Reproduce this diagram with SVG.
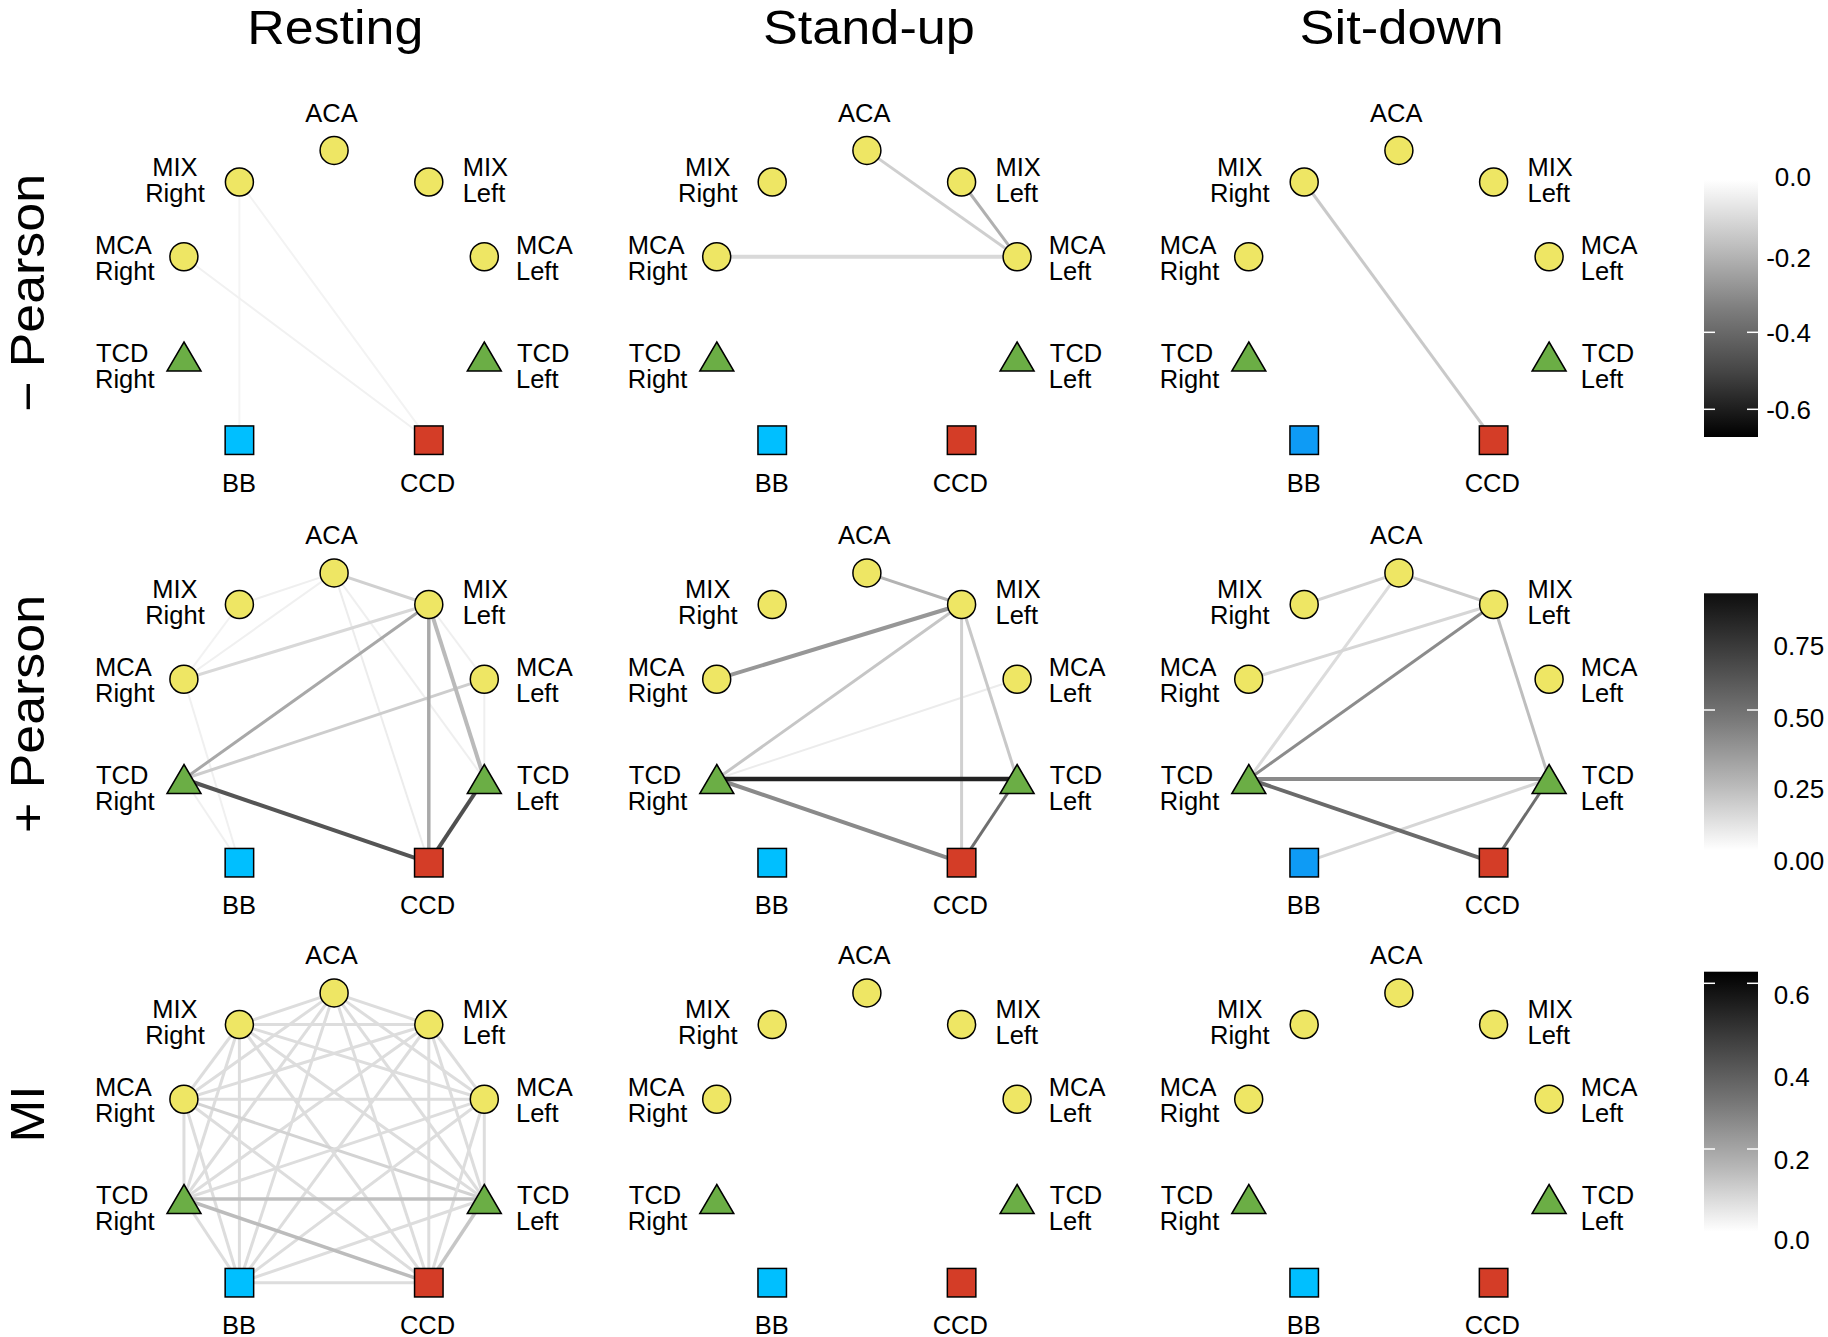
<svg xmlns="http://www.w3.org/2000/svg" xmlns:xlink="http://www.w3.org/1999/xlink" width="1828" height="1337" viewBox="0 0 1828 1337">
<style>
text{font-family:"Liberation Sans",Arial,Helvetica,sans-serif;fill:#000}
.lab{font-size:25.5px}
.mid{text-anchor:middle}
.title{font-size:48px;text-anchor:middle}
.row{font-size:48px;text-anchor:middle}
.cb{font-size:26px}
.end{text-anchor:end}
line{stroke-linecap:butt;fill:none}
.tick{stroke:#fff;stroke-width:1.5}
</style>
<defs>
<circle id="nc" cx="0" cy="0" r="14" fill="#EEE664" stroke="#000" stroke-width="1.5"/>
<path id="nt" d="M0,-14.5 L17,14.5 L-17,14.5 Z" fill="#6BAE45" stroke="#000" stroke-width="1.5"/>
<rect id="nsb" x="-14.25" y="-14.25" width="28.5" height="28.5" fill="#00BFFF" stroke="#000" stroke-width="1.5"/>
<rect id="nsb2" x="-14.25" y="-14.25" width="28.5" height="28.5" fill="#0E9BF5" stroke="#000" stroke-width="1.5"/>
<rect id="nsr" x="-14.25" y="-14.25" width="28.5" height="28.5" fill="#D43D27" stroke="#000" stroke-width="1.5"/>
<linearGradient id="g1" x1="0" y1="0" x2="0" y2="1">
<stop offset="0" stop-color="#ffffff"/><stop offset="0.25" stop-color="#c0c0c0"/><stop offset="0.5" stop-color="#7e7e7e"/><stop offset="0.75" stop-color="#444444"/><stop offset="1" stop-color="#000000"/>
</linearGradient>
<linearGradient id="g2" x1="0" y1="0" x2="0" y2="1">
<stop offset="0" stop-color="#0e0e0e"/><stop offset="0.25" stop-color="#444444"/><stop offset="0.5" stop-color="#7b7b7b"/><stop offset="0.75" stop-color="#bababa"/><stop offset="1" stop-color="#ffffff"/>
</linearGradient>
<linearGradient id="g3" x1="0" y1="0" x2="0" y2="1">
<stop offset="0" stop-color="#000000"/><stop offset="0.25" stop-color="#3c3c3c"/><stop offset="0.5" stop-color="#767676"/><stop offset="0.75" stop-color="#b6b6b6"/><stop offset="1" stop-color="#ffffff"/>
</linearGradient>
</defs>
<rect width="1828" height="1337" fill="#fff"/>

<g id="titles">
<text class="title" x="335.3" y="43.5" textLength="176" lengthAdjust="spacingAndGlyphs">Resting</text>
<text class="title" x="868.9" y="43.5" textLength="212" lengthAdjust="spacingAndGlyphs">Stand-up</text>
<text class="title" x="1401.6" y="43.5" textLength="204" lengthAdjust="spacingAndGlyphs">Sit-down</text>
<text class="row" transform="translate(43.5,293) rotate(-90)" textLength="238" lengthAdjust="spacingAndGlyphs">− Pearson</text>
<text class="row" transform="translate(43.5,714) rotate(-90)" textLength="238" lengthAdjust="spacingAndGlyphs">+ Pearson</text>
<text class="row" transform="translate(43.5,1114) rotate(-90)" textLength="57" lengthAdjust="spacingAndGlyphs">MI</text>
</g>

<g id="connectors">
<g id="edges-r1c1" transform="translate(0,0)">
<line x1="239.4" y1="182" x2="239.4" y2="440.2" stroke="#f4f4f4" stroke-width="2"/>
<line x1="239.4" y1="182" x2="428.8" y2="440.2" stroke="#f3f3f3" stroke-width="2"/>
<line x1="183.9" y1="256.7" x2="428.8" y2="440.2" stroke="#f1f1f1" stroke-width="2"/>
</g>
<g id="edges-r1c2" transform="translate(532.8,0)">
<line x1="183.9" y1="256.7" x2="484.3" y2="256.7" stroke="#d9d9d9" stroke-width="4"/>
<line x1="334.1" y1="150.4" x2="484.3" y2="256.7" stroke="#cfcfcf" stroke-width="3"/>
<line x1="428.8" y1="182" x2="484.3" y2="256.7" stroke="#b0b0b0" stroke-width="3"/>
</g>
<g id="edges-r1c3" transform="translate(1064.8,0)">
<line x1="239.4" y1="182" x2="428.8" y2="440.2" stroke="#c9c9c9" stroke-width="3"/>
</g>
<g id="edges-r2c1" transform="translate(0,422.5)">
<line x1="334.1" y1="150.4" x2="239.4" y2="182" stroke="#efefef" stroke-width="2"/>
<line x1="239.4" y1="182" x2="183.9" y2="256.7" stroke="#f2f2f2" stroke-width="2"/>
<line x1="334.1" y1="150.4" x2="183.9" y2="256.7" stroke="#f0f0f0" stroke-width="2"/>
<line x1="334.1" y1="150.4" x2="428.8" y2="440.2" stroke="#ececec" stroke-width="2"/>
<line x1="334.1" y1="150.4" x2="484.3" y2="356.5" stroke="#efefef" stroke-width="2"/>
<line x1="428.8" y1="182" x2="484.3" y2="256.7" stroke="#efefef" stroke-width="2"/>
<line x1="484.3" y1="256.7" x2="484.3" y2="356.5" stroke="#efefef" stroke-width="2"/>
<line x1="183.9" y1="256.7" x2="239.4" y2="440.2" stroke="#f0f0f0" stroke-width="2"/>
<line x1="184" y1="356.5" x2="239.4" y2="440.2" stroke="#f0f0f0" stroke-width="2"/>
<line x1="334.1" y1="150.4" x2="428.8" y2="182" stroke="#d0d0d0" stroke-width="3"/>
<line x1="183.9" y1="256.7" x2="428.8" y2="182" stroke="#d8d8d8" stroke-width="3"/>
<line x1="184" y1="356.5" x2="484.3" y2="256.7" stroke="#cdcdcd" stroke-width="3"/>
<line x1="184" y1="356.5" x2="428.8" y2="182" stroke="#a8a8a8" stroke-width="3"/>
<line x1="428.8" y1="182" x2="428.8" y2="440.2" stroke="#a9a9a9" stroke-width="3.5"/>
<line x1="428.8" y1="182" x2="484.3" y2="356.5" stroke="#bababa" stroke-width="4"/>
<line x1="184" y1="356.5" x2="428.8" y2="440.2" stroke="#555555" stroke-width="4"/>
<line x1="428.8" y1="440.2" x2="484.3" y2="356.5" stroke="#4f4f4f" stroke-width="4"/>
</g>
<g id="edges-r2c2" transform="translate(532.8,422.5)">
<line x1="184" y1="356.5" x2="484.3" y2="256.7" stroke="#ececec" stroke-width="2"/>
<line x1="334.1" y1="150.4" x2="428.8" y2="182" stroke="#b3b3b3" stroke-width="3"/>
<line x1="184" y1="356.5" x2="428.8" y2="182" stroke="#c6c6c6" stroke-width="3"/>
<line x1="428.8" y1="182" x2="428.8" y2="440.2" stroke="#d0d0d0" stroke-width="3"/>
<line x1="428.8" y1="182" x2="484.3" y2="356.5" stroke="#c8c8c8" stroke-width="3"/>
<line x1="183.9" y1="256.7" x2="428.8" y2="182" stroke="#979797" stroke-width="4"/>
<line x1="184" y1="356.5" x2="428.8" y2="440.2" stroke="#8a8a8a" stroke-width="4"/>
<line x1="428.8" y1="440.2" x2="484.3" y2="356.5" stroke="#6f6f6f" stroke-width="3"/>
<line x1="184" y1="356.5" x2="484.3" y2="356.5" stroke="#222222" stroke-width="4.5"/>
</g>
<g id="edges-r2c3" transform="translate(1064.8,422.5)">
<line x1="239.4" y1="182" x2="334.1" y2="150.4" stroke="#d4d4d4" stroke-width="3"/>
<line x1="334.1" y1="150.4" x2="428.8" y2="182" stroke="#cbcbcb" stroke-width="3"/>
<line x1="334.1" y1="150.4" x2="184" y2="356.5" stroke="#dcdcdc" stroke-width="3"/>
<line x1="183.9" y1="256.7" x2="428.8" y2="182" stroke="#d6d6d6" stroke-width="3"/>
<line x1="239.4" y1="440.2" x2="484.3" y2="356.5" stroke="#d6d6d6" stroke-width="3"/>
<line x1="428.8" y1="182" x2="484.3" y2="356.5" stroke="#bebebe" stroke-width="3"/>
<line x1="184" y1="356.5" x2="428.8" y2="182" stroke="#8c8c8c" stroke-width="3"/>
<line x1="184" y1="356.5" x2="484.3" y2="356.5" stroke="#8a8a8a" stroke-width="4"/>
<line x1="184" y1="356.5" x2="428.8" y2="440.2" stroke="#6a6a6a" stroke-width="4"/>
<line x1="428.8" y1="440.2" x2="484.3" y2="356.5" stroke="#6c6c6c" stroke-width="3"/>
</g>
<g id="edges-r3c1" transform="translate(0,842.5)" stroke="#dddddd" stroke-width="3">
<line x1="334.1" y1="150.4" x2="239.4" y2="182"/>
<line x1="334.1" y1="150.4" x2="428.8" y2="182"/>
<line x1="334.1" y1="150.4" x2="183.9" y2="256.7"/>
<line x1="334.1" y1="150.4" x2="484.3" y2="256.7"/>
<line x1="334.1" y1="150.4" x2="184" y2="356.5"/>
<line x1="334.1" y1="150.4" x2="484.3" y2="356.5"/>
<line x1="334.1" y1="150.4" x2="239.4" y2="440.2"/>
<line x1="334.1" y1="150.4" x2="428.8" y2="440.2"/>
<line x1="239.4" y1="182" x2="428.8" y2="182"/>
<line x1="239.4" y1="182" x2="183.9" y2="256.7"/>
<line x1="239.4" y1="182" x2="484.3" y2="256.7"/>
<line x1="239.4" y1="182" x2="184" y2="356.5"/>
<line x1="239.4" y1="182" x2="484.3" y2="356.5"/>
<line x1="239.4" y1="182" x2="239.4" y2="440.2"/>
<line x1="239.4" y1="182" x2="428.8" y2="440.2"/>
<line x1="428.8" y1="182" x2="183.9" y2="256.7"/>
<line x1="428.8" y1="182" x2="484.3" y2="256.7"/>
<line x1="428.8" y1="182" x2="184" y2="356.5"/>
<line x1="428.8" y1="182" x2="484.3" y2="356.5"/>
<line x1="428.8" y1="182" x2="239.4" y2="440.2"/>
<line x1="428.8" y1="182" x2="428.8" y2="440.2"/>
<line x1="183.9" y1="256.7" x2="484.3" y2="256.7"/>
<line x1="183.9" y1="256.7" x2="184" y2="356.5"/>
<line x1="183.9" y1="256.7" x2="484.3" y2="356.5" stroke="#d3d3d3"/>
<line x1="183.9" y1="256.7" x2="239.4" y2="440.2"/>
<line x1="183.9" y1="256.7" x2="428.8" y2="440.2"/>
<line x1="484.3" y1="256.7" x2="184" y2="356.5"/>
<line x1="484.3" y1="256.7" x2="484.3" y2="356.5"/>
<line x1="484.3" y1="256.7" x2="239.4" y2="440.2"/>
<line x1="484.3" y1="256.7" x2="428.8" y2="440.2"/>
<line x1="184" y1="356.5" x2="239.4" y2="440.2"/>
<line x1="484.3" y1="356.5" x2="239.4" y2="440.2"/>
<line x1="239.4" y1="440.2" x2="428.8" y2="440.2"/>
<line x1="184" y1="356.5" x2="484.3" y2="356.5" stroke="#c0c0c0" stroke-width="3.5"/>
<line x1="184" y1="356.5" x2="428.8" y2="440.2" stroke="#bcbcbc" stroke-width="3.5"/>
<line x1="484.3" y1="356.5" x2="428.8" y2="440.2" stroke="#c6c6c6" stroke-width="3.5"/>
</g>
</g>

<g id="nodes" class="lab">
<g id="panel-r1c1" transform="translate(0,0)">
<g id="r1c1-ACA"><use href="#nc" x="334.1" y="150.4"/><text class="lab mid" x="331.5" y="121.5">ACA</text></g>
<g id="r1c1-MIXR"><use href="#nc" x="239.4" y="182"/><text class="lab"><tspan x="152.3" y="175.5">MIX</tspan><tspan x="145.2" y="201.5">Right</tspan></text></g>
<g id="r1c1-MIXL"><use href="#nc" x="428.8" y="182"/><text class="lab"><tspan x="462.7" y="175.5">MIX</tspan><tspan x="462.7" y="201.5">Left</tspan></text></g>
<g id="r1c1-MCAR"><use href="#nc" x="183.9" y="256.7"/><text class="lab"><tspan x="95" y="253.5">MCA</tspan><tspan x="95" y="279.5">Right</tspan></text></g>
<g id="r1c1-MCAL"><use href="#nc" x="484.3" y="256.7"/><text class="lab"><tspan x="516" y="253.5">MCA</tspan><tspan x="516" y="279.5">Left</tspan></text></g>
<g id="r1c1-TCDR"><use href="#nt" x="184" y="356.5"/><text class="lab"><tspan x="96" y="361.5">TCD</tspan><tspan x="95" y="387.5">Right</tspan></text></g>
<g id="r1c1-TCDL"><use href="#nt" x="484.3" y="356.5"/><text class="lab"><tspan x="517" y="361.5">TCD</tspan><tspan x="516" y="387.5">Left</tspan></text></g>
<g id="r1c1-BB"><use href="#nsb" x="239.4" y="440.2"/><text class="lab mid" x="239" y="491.5">BB</text></g>
<g id="r1c1-CCD"><use href="#nsr" x="428.8" y="440.2"/><text class="lab mid" x="427.5" y="491.5">CCD</text></g>
</g>
<g id="panel-r1c2" transform="translate(532.8,0)">
<g id="r1c2-ACA"><use href="#nc" x="334.1" y="150.4"/><text class="lab mid" x="331.5" y="121.5">ACA</text></g>
<g id="r1c2-MIXR"><use href="#nc" x="239.4" y="182"/><text class="lab"><tspan x="152.3" y="175.5">MIX</tspan><tspan x="145.2" y="201.5">Right</tspan></text></g>
<g id="r1c2-MIXL"><use href="#nc" x="428.8" y="182"/><text class="lab"><tspan x="462.7" y="175.5">MIX</tspan><tspan x="462.7" y="201.5">Left</tspan></text></g>
<g id="r1c2-MCAR"><use href="#nc" x="183.9" y="256.7"/><text class="lab"><tspan x="95" y="253.5">MCA</tspan><tspan x="95" y="279.5">Right</tspan></text></g>
<g id="r1c2-MCAL"><use href="#nc" x="484.3" y="256.7"/><text class="lab"><tspan x="516" y="253.5">MCA</tspan><tspan x="516" y="279.5">Left</tspan></text></g>
<g id="r1c2-TCDR"><use href="#nt" x="184" y="356.5"/><text class="lab"><tspan x="96" y="361.5">TCD</tspan><tspan x="95" y="387.5">Right</tspan></text></g>
<g id="r1c2-TCDL"><use href="#nt" x="484.3" y="356.5"/><text class="lab"><tspan x="517" y="361.5">TCD</tspan><tspan x="516" y="387.5">Left</tspan></text></g>
<g id="r1c2-BB"><use href="#nsb" x="239.4" y="440.2"/><text class="lab mid" x="239" y="491.5">BB</text></g>
<g id="r1c2-CCD"><use href="#nsr" x="428.8" y="440.2"/><text class="lab mid" x="427.5" y="491.5">CCD</text></g>
</g>
<g id="panel-r1c3" transform="translate(1064.8,0)">
<g id="r1c3-ACA"><use href="#nc" x="334.1" y="150.4"/><text class="lab mid" x="331.5" y="121.5">ACA</text></g>
<g id="r1c3-MIXR"><use href="#nc" x="239.4" y="182"/><text class="lab"><tspan x="152.3" y="175.5">MIX</tspan><tspan x="145.2" y="201.5">Right</tspan></text></g>
<g id="r1c3-MIXL"><use href="#nc" x="428.8" y="182"/><text class="lab"><tspan x="462.7" y="175.5">MIX</tspan><tspan x="462.7" y="201.5">Left</tspan></text></g>
<g id="r1c3-MCAR"><use href="#nc" x="183.9" y="256.7"/><text class="lab"><tspan x="95" y="253.5">MCA</tspan><tspan x="95" y="279.5">Right</tspan></text></g>
<g id="r1c3-MCAL"><use href="#nc" x="484.3" y="256.7"/><text class="lab"><tspan x="516" y="253.5">MCA</tspan><tspan x="516" y="279.5">Left</tspan></text></g>
<g id="r1c3-TCDR"><use href="#nt" x="184" y="356.5"/><text class="lab"><tspan x="96" y="361.5">TCD</tspan><tspan x="95" y="387.5">Right</tspan></text></g>
<g id="r1c3-TCDL"><use href="#nt" x="484.3" y="356.5"/><text class="lab"><tspan x="517" y="361.5">TCD</tspan><tspan x="516" y="387.5">Left</tspan></text></g>
<g id="r1c3-BB"><use href="#nsb2" x="239.4" y="440.2"/><text class="lab mid" x="239" y="491.5">BB</text></g>
<g id="r1c3-CCD"><use href="#nsr" x="428.8" y="440.2"/><text class="lab mid" x="427.5" y="491.5">CCD</text></g>
</g>
<g id="panel-r2c1" transform="translate(0,422.5)">
<g id="r2c1-ACA"><use href="#nc" x="334.1" y="150.4"/><text class="lab mid" x="331.5" y="121.5">ACA</text></g>
<g id="r2c1-MIXR"><use href="#nc" x="239.4" y="182"/><text class="lab"><tspan x="152.3" y="175.5">MIX</tspan><tspan x="145.2" y="201.5">Right</tspan></text></g>
<g id="r2c1-MIXL"><use href="#nc" x="428.8" y="182"/><text class="lab"><tspan x="462.7" y="175.5">MIX</tspan><tspan x="462.7" y="201.5">Left</tspan></text></g>
<g id="r2c1-MCAR"><use href="#nc" x="183.9" y="256.7"/><text class="lab"><tspan x="95" y="253.5">MCA</tspan><tspan x="95" y="279.5">Right</tspan></text></g>
<g id="r2c1-MCAL"><use href="#nc" x="484.3" y="256.7"/><text class="lab"><tspan x="516" y="253.5">MCA</tspan><tspan x="516" y="279.5">Left</tspan></text></g>
<g id="r2c1-TCDR"><use href="#nt" x="184" y="356.5"/><text class="lab"><tspan x="96" y="361.5">TCD</tspan><tspan x="95" y="387.5">Right</tspan></text></g>
<g id="r2c1-TCDL"><use href="#nt" x="484.3" y="356.5"/><text class="lab"><tspan x="517" y="361.5">TCD</tspan><tspan x="516" y="387.5">Left</tspan></text></g>
<g id="r2c1-BB"><use href="#nsb" x="239.4" y="440.2"/><text class="lab mid" x="239" y="491.5">BB</text></g>
<g id="r2c1-CCD"><use href="#nsr" x="428.8" y="440.2"/><text class="lab mid" x="427.5" y="491.5">CCD</text></g>
</g>
<g id="panel-r2c2" transform="translate(532.8,422.5)">
<g id="r2c2-ACA"><use href="#nc" x="334.1" y="150.4"/><text class="lab mid" x="331.5" y="121.5">ACA</text></g>
<g id="r2c2-MIXR"><use href="#nc" x="239.4" y="182"/><text class="lab"><tspan x="152.3" y="175.5">MIX</tspan><tspan x="145.2" y="201.5">Right</tspan></text></g>
<g id="r2c2-MIXL"><use href="#nc" x="428.8" y="182"/><text class="lab"><tspan x="462.7" y="175.5">MIX</tspan><tspan x="462.7" y="201.5">Left</tspan></text></g>
<g id="r2c2-MCAR"><use href="#nc" x="183.9" y="256.7"/><text class="lab"><tspan x="95" y="253.5">MCA</tspan><tspan x="95" y="279.5">Right</tspan></text></g>
<g id="r2c2-MCAL"><use href="#nc" x="484.3" y="256.7"/><text class="lab"><tspan x="516" y="253.5">MCA</tspan><tspan x="516" y="279.5">Left</tspan></text></g>
<g id="r2c2-TCDR"><use href="#nt" x="184" y="356.5"/><text class="lab"><tspan x="96" y="361.5">TCD</tspan><tspan x="95" y="387.5">Right</tspan></text></g>
<g id="r2c2-TCDL"><use href="#nt" x="484.3" y="356.5"/><text class="lab"><tspan x="517" y="361.5">TCD</tspan><tspan x="516" y="387.5">Left</tspan></text></g>
<g id="r2c2-BB"><use href="#nsb" x="239.4" y="440.2"/><text class="lab mid" x="239" y="491.5">BB</text></g>
<g id="r2c2-CCD"><use href="#nsr" x="428.8" y="440.2"/><text class="lab mid" x="427.5" y="491.5">CCD</text></g>
</g>
<g id="panel-r2c3" transform="translate(1064.8,422.5)">
<g id="r2c3-ACA"><use href="#nc" x="334.1" y="150.4"/><text class="lab mid" x="331.5" y="121.5">ACA</text></g>
<g id="r2c3-MIXR"><use href="#nc" x="239.4" y="182"/><text class="lab"><tspan x="152.3" y="175.5">MIX</tspan><tspan x="145.2" y="201.5">Right</tspan></text></g>
<g id="r2c3-MIXL"><use href="#nc" x="428.8" y="182"/><text class="lab"><tspan x="462.7" y="175.5">MIX</tspan><tspan x="462.7" y="201.5">Left</tspan></text></g>
<g id="r2c3-MCAR"><use href="#nc" x="183.9" y="256.7"/><text class="lab"><tspan x="95" y="253.5">MCA</tspan><tspan x="95" y="279.5">Right</tspan></text></g>
<g id="r2c3-MCAL"><use href="#nc" x="484.3" y="256.7"/><text class="lab"><tspan x="516" y="253.5">MCA</tspan><tspan x="516" y="279.5">Left</tspan></text></g>
<g id="r2c3-TCDR"><use href="#nt" x="184" y="356.5"/><text class="lab"><tspan x="96" y="361.5">TCD</tspan><tspan x="95" y="387.5">Right</tspan></text></g>
<g id="r2c3-TCDL"><use href="#nt" x="484.3" y="356.5"/><text class="lab"><tspan x="517" y="361.5">TCD</tspan><tspan x="516" y="387.5">Left</tspan></text></g>
<g id="r2c3-BB"><use href="#nsb2" x="239.4" y="440.2"/><text class="lab mid" x="239" y="491.5">BB</text></g>
<g id="r2c3-CCD"><use href="#nsr" x="428.8" y="440.2"/><text class="lab mid" x="427.5" y="491.5">CCD</text></g>
</g>
<g id="panel-r3c1" transform="translate(0,842.5)">
<g id="r3c1-ACA"><use href="#nc" x="334.1" y="150.4"/><text class="lab mid" x="331.5" y="121.5">ACA</text></g>
<g id="r3c1-MIXR"><use href="#nc" x="239.4" y="182"/><text class="lab"><tspan x="152.3" y="175.5">MIX</tspan><tspan x="145.2" y="201.5">Right</tspan></text></g>
<g id="r3c1-MIXL"><use href="#nc" x="428.8" y="182"/><text class="lab"><tspan x="462.7" y="175.5">MIX</tspan><tspan x="462.7" y="201.5">Left</tspan></text></g>
<g id="r3c1-MCAR"><use href="#nc" x="183.9" y="256.7"/><text class="lab"><tspan x="95" y="253.5">MCA</tspan><tspan x="95" y="279.5">Right</tspan></text></g>
<g id="r3c1-MCAL"><use href="#nc" x="484.3" y="256.7"/><text class="lab"><tspan x="516" y="253.5">MCA</tspan><tspan x="516" y="279.5">Left</tspan></text></g>
<g id="r3c1-TCDR"><use href="#nt" x="184" y="356.5"/><text class="lab"><tspan x="96" y="361.5">TCD</tspan><tspan x="95" y="387.5">Right</tspan></text></g>
<g id="r3c1-TCDL"><use href="#nt" x="484.3" y="356.5"/><text class="lab"><tspan x="517" y="361.5">TCD</tspan><tspan x="516" y="387.5">Left</tspan></text></g>
<g id="r3c1-BB"><use href="#nsb" x="239.4" y="440.2"/><text class="lab mid" x="239" y="491.5">BB</text></g>
<g id="r3c1-CCD"><use href="#nsr" x="428.8" y="440.2"/><text class="lab mid" x="427.5" y="491.5">CCD</text></g>
</g>
<g id="panel-r3c2" transform="translate(532.8,842.5)">
<g id="r3c2-ACA"><use href="#nc" x="334.1" y="150.4"/><text class="lab mid" x="331.5" y="121.5">ACA</text></g>
<g id="r3c2-MIXR"><use href="#nc" x="239.4" y="182"/><text class="lab"><tspan x="152.3" y="175.5">MIX</tspan><tspan x="145.2" y="201.5">Right</tspan></text></g>
<g id="r3c2-MIXL"><use href="#nc" x="428.8" y="182"/><text class="lab"><tspan x="462.7" y="175.5">MIX</tspan><tspan x="462.7" y="201.5">Left</tspan></text></g>
<g id="r3c2-MCAR"><use href="#nc" x="183.9" y="256.7"/><text class="lab"><tspan x="95" y="253.5">MCA</tspan><tspan x="95" y="279.5">Right</tspan></text></g>
<g id="r3c2-MCAL"><use href="#nc" x="484.3" y="256.7"/><text class="lab"><tspan x="516" y="253.5">MCA</tspan><tspan x="516" y="279.5">Left</tspan></text></g>
<g id="r3c2-TCDR"><use href="#nt" x="184" y="356.5"/><text class="lab"><tspan x="96" y="361.5">TCD</tspan><tspan x="95" y="387.5">Right</tspan></text></g>
<g id="r3c2-TCDL"><use href="#nt" x="484.3" y="356.5"/><text class="lab"><tspan x="517" y="361.5">TCD</tspan><tspan x="516" y="387.5">Left</tspan></text></g>
<g id="r3c2-BB"><use href="#nsb" x="239.4" y="440.2"/><text class="lab mid" x="239" y="491.5">BB</text></g>
<g id="r3c2-CCD"><use href="#nsr" x="428.8" y="440.2"/><text class="lab mid" x="427.5" y="491.5">CCD</text></g>
</g>
<g id="panel-r3c3" transform="translate(1064.8,842.5)">
<g id="r3c3-ACA"><use href="#nc" x="334.1" y="150.4"/><text class="lab mid" x="331.5" y="121.5">ACA</text></g>
<g id="r3c3-MIXR"><use href="#nc" x="239.4" y="182"/><text class="lab"><tspan x="152.3" y="175.5">MIX</tspan><tspan x="145.2" y="201.5">Right</tspan></text></g>
<g id="r3c3-MIXL"><use href="#nc" x="428.8" y="182"/><text class="lab"><tspan x="462.7" y="175.5">MIX</tspan><tspan x="462.7" y="201.5">Left</tspan></text></g>
<g id="r3c3-MCAR"><use href="#nc" x="183.9" y="256.7"/><text class="lab"><tspan x="95" y="253.5">MCA</tspan><tspan x="95" y="279.5">Right</tspan></text></g>
<g id="r3c3-MCAL"><use href="#nc" x="484.3" y="256.7"/><text class="lab"><tspan x="516" y="253.5">MCA</tspan><tspan x="516" y="279.5">Left</tspan></text></g>
<g id="r3c3-TCDR"><use href="#nt" x="184" y="356.5"/><text class="lab"><tspan x="96" y="361.5">TCD</tspan><tspan x="95" y="387.5">Right</tspan></text></g>
<g id="r3c3-TCDL"><use href="#nt" x="484.3" y="356.5"/><text class="lab"><tspan x="517" y="361.5">TCD</tspan><tspan x="516" y="387.5">Left</tspan></text></g>
<g id="r3c3-BB"><use href="#nsb" x="239.4" y="440.2"/><text class="lab mid" x="239" y="491.5">BB</text></g>
<g id="r3c3-CCD"><use href="#nsr" x="428.8" y="440.2"/><text class="lab mid" x="427.5" y="491.5">CCD</text></g>
</g>
</g>

<g id="legends">
<g id="legend-row1">
<rect x="1704" y="180" width="54" height="257" fill="url(#g1)"/>
<line class="tick" x1="1704" y1="332.3" x2="1715" y2="332.3"/><line class="tick" x1="1747" y1="332.3" x2="1758" y2="332.3"/>
<line class="tick" x1="1704" y1="409.3" x2="1715" y2="409.3"/><line class="tick" x1="1747" y1="409.3" x2="1758" y2="409.3"/>
<text class="cb end" x="1811" y="186">0.0</text>
<text class="cb end" x="1811" y="266.5">-0.2</text>
<text class="cb end" x="1811" y="342">-0.4</text>
<text class="cb end" x="1811" y="419">-0.6</text>
</g>
<g id="legend-row2">
<rect x="1704" y="593.3" width="54" height="257" fill="url(#g2)"/>
<line class="tick" x1="1704" y1="710" x2="1715" y2="710"/><line class="tick" x1="1747" y1="710" x2="1758" y2="710"/>
<text class="cb" x="1773.5" y="655">0.75</text>
<text class="cb" x="1773.5" y="727">0.50</text>
<text class="cb" x="1773.5" y="798">0.25</text>
<text class="cb" x="1773.5" y="870">0.00</text>
</g>
<g id="legend-row3">
<rect x="1704" y="971.7" width="54" height="260" fill="url(#g3)"/>
<line class="tick" x1="1704" y1="983.3" x2="1715" y2="983.3"/><line class="tick" x1="1747" y1="983.3" x2="1758" y2="983.3"/>
<line class="tick" x1="1704" y1="1149" x2="1715" y2="1149"/><line class="tick" x1="1747" y1="1149" x2="1758" y2="1149"/>
<text class="cb" x="1773.7" y="1003.5">0.6</text>
<text class="cb" x="1773.7" y="1086">0.4</text>
<text class="cb" x="1773.7" y="1168.5">0.2</text>
<text class="cb" x="1773.7" y="1248.5">0.0</text>
</g>
</g>
</svg>
